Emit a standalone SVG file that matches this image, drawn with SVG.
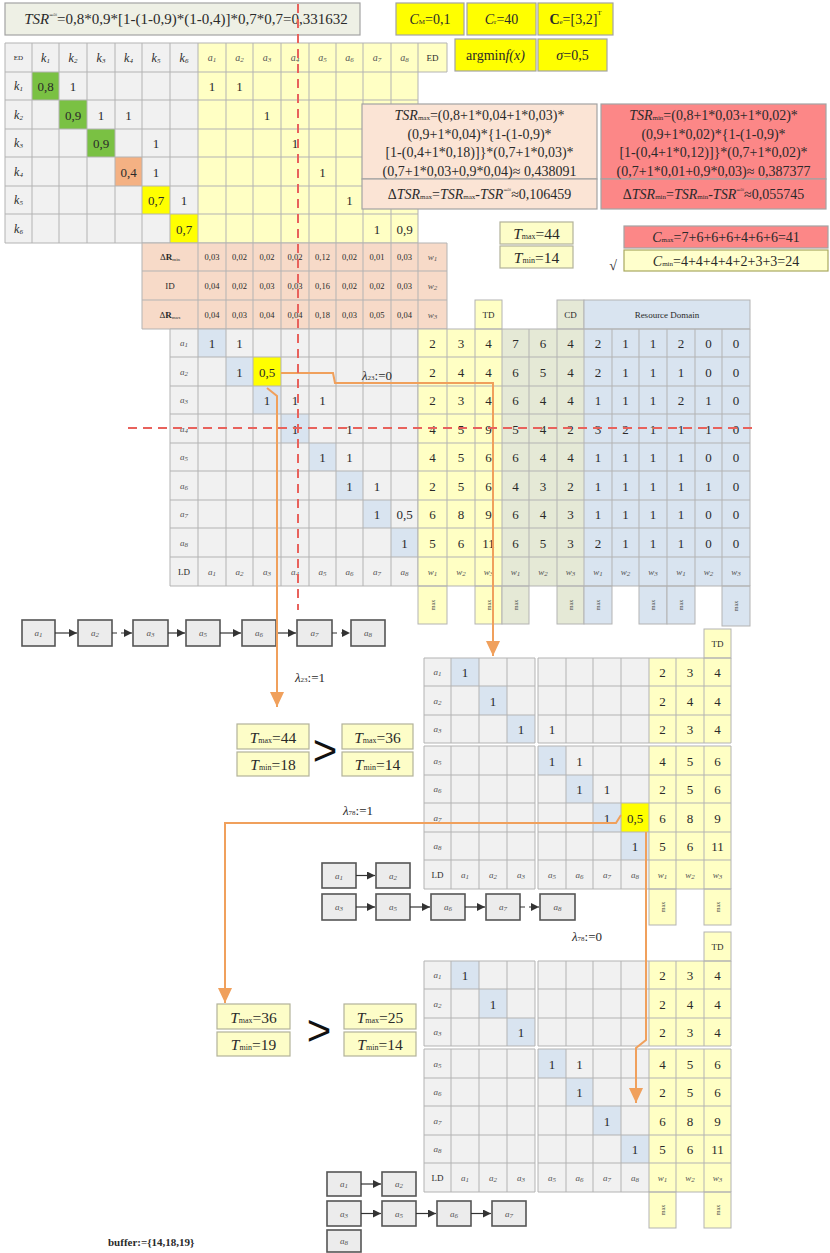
<svg xmlns="http://www.w3.org/2000/svg" width="830" height="1253" viewBox="0 0 830 1253">
<style>
text{font-family:"Liberation Serif","Times New Roman",serif;fill:#2a2a2a}
.t{font-size:13px;text-anchor:middle;dominant-baseline:central}
.s{font-size:8.5px}
.f{font-size:14px}
.tt{font-size:15.5px}
.i{font-style:italic}
.a{font-size:10px;font-style:italic;fill:#555}
.k{font-size:12px;font-style:italic}
.sb{font-size:7px}
.sb2{font-size:8px}
.sm{font-size:9px}
.grid{fill:none;stroke:#b3b3b3;stroke-width:1}
.gs{stroke:#b3b3b3;stroke-width:1}
.cg{fill:#f1f1f1}
.cy{fill:#ffffc4}
.cb{fill:#d9e4f0}
.cgg{fill:#e5e9d6}
.co{fill:#f7dac8}
.hy{fill:#ffff00}
.gn{fill:#7ac143}
.oc{fill:#f4b183}
.box{stroke:#a3a3a3;stroke-width:1.2}
.tb{fill:#fdfdc8;stroke:#b2b29a;stroke-width:1.2}
.ch rect{fill:#ececec;stroke:#555;stroke-width:1.6}
.or{fill:none;stroke:#f0a05c;stroke-width:2}
.dash{fill:none;stroke:#e8625c;stroke-width:2;stroke-dasharray:9 6}
.lk{stroke:#333;stroke-width:1.2;fill:none}
.dl{stroke-dasharray:5 4}
.rt{font-size:6px;text-anchor:middle;dominant-baseline:central;fill:#444}
</style>
<defs>
<marker id="oa" markerUnits="userSpaceOnUse" markerWidth="16" markerHeight="14" refX="15" refY="7" orient="auto"><path d="M0,0 L15,7 L0,14 z" fill="#f0a05c"/></marker>
<marker id="ba" markerUnits="userSpaceOnUse" markerWidth="8" markerHeight="8" refX="8" refY="4" orient="auto"><path d="M0,0 L8,4 L0,8 z" fill="#333"/></marker>
</defs>

<!-- TSR box -->
<g id="tsr-box">
<rect x="5" y="3" width="355" height="32" fill="#eef0e5" class="box"/>
<text class="t" x="186" y="19" style="font-size:15px"><tspan class="i">TSR</tspan><tspan class="sb" dy="-4">=≈</tspan><tspan dy="4">=0,8*0,9*[1-(1-0,9)*(1-0,4)]*0,7*0,7=0,331632</tspan></text>
</g>

<!-- parameter boxes -->
<g id="param-cm"><rect x="396" y="3" width="68" height="32" class="hy box"/><text class="t f" x="430" y="19"><tspan class="i">C</tspan><tspan class="sb" dy="3">M</tspan><tspan dy="-3">=0,1</tspan></text></g>
<g id="param-cr"><rect x="467" y="3" width="69" height="32" class="hy box"/><text class="t f" x="501.5" y="19"><tspan class="i">C</tspan><tspan class="sb" dy="3">r</tspan><tspan dy="-3">=40</tspan></text></g>
<g id="param-ce"><rect x="538" y="3" width="75" height="32" class="hy box"/><text class="t f" x="575.5" y="19"><tspan font-weight="bold">C</tspan><tspan class="sb" dy="3">e</tspan><tspan dy="-3">=[3,2]</tspan><tspan class="sb" dy="-6">T</tspan></text></g>
<g id="param-argmin"><rect x="455" y="39" width="81" height="32" class="hy box"/><text class="t f" x="495.5" y="55">argmin<tspan class="i">f(x)</tspan></text></g>
<g id="param-sigma"><rect x="538" y="39" width="69" height="32" class="hy box"/><text class="t f" x="572.5" y="55"><tspan class="i">σ</tspan>=0,5</text></g>

<!-- ED table -->
<g id="ed-table">
<rect x="5" y="43" width="193" height="200" class="cg"/>
<rect x="198" y="43" width="220" height="200" class="cy"/>
<rect x="418" y="43" width="29" height="29" class="cy"/>
<rect x="32" y="72" width="27" height="28" class="gn"/>
<rect x="59" y="100" width="28" height="29" class="gn"/>
<rect x="87" y="129" width="28" height="28" class="gn"/>
<rect x="115" y="157" width="27" height="29" class="oc"/>
<rect x="142" y="186" width="28" height="28" class="hy"/>
<rect x="170" y="214" width="28" height="29" class="hy"/>
<path class="grid" d="M5 43V243M32 43V243M59 43V243M87 43V243M115 43V243M142 43V243M170 43V243M198 43V243M226 43V243M253 43V243M281 43V243M309 43V243M336 43V243M363 43V243M391 43V243M418 43V243M447 43V72M5 43H447M5 72H447M5 100H418M5 129H418M5 157H418M5 186H418M5 214H418M5 243H418"/>
<text class="t" x="18.5" y="57.5" style="font-size:7px">ED</text>
<text class="t k" x="45.5" y="57.5">k<tspan class="sb" dy="3">1</tspan></text>
<text class="t k" x="73" y="57.5">k<tspan class="sb" dy="3">2</tspan></text>
<text class="t k" x="101" y="57.5">k<tspan class="sb" dy="3">3</tspan></text>
<text class="t k" x="128.5" y="57.5">k<tspan class="sb" dy="3">4</tspan></text>
<text class="t k" x="156" y="57.5">k<tspan class="sb" dy="3">5</tspan></text>
<text class="t k" x="184" y="57.5">k<tspan class="sb" dy="3">6</tspan></text>
<text class="t a" x="212" y="57.5">a<tspan class="sb" dy="2">1</tspan></text>
<text class="t a" x="239.5" y="57.5">a<tspan class="sb" dy="2">2</tspan></text>
<text class="t a" x="267" y="57.5">a<tspan class="sb" dy="2">3</tspan></text>
<text class="t a" x="295" y="57.5">a<tspan class="sb" dy="2">4</tspan></text>
<text class="t a" x="322.5" y="57.5">a<tspan class="sb" dy="2">5</tspan></text>
<text class="t a" x="349.5" y="57.5">a<tspan class="sb" dy="2">6</tspan></text>
<text class="t a" x="377" y="57.5">a<tspan class="sb" dy="2">7</tspan></text>
<text class="t a" x="404.5" y="57.5">a<tspan class="sb" dy="2">8</tspan></text>
<text class="t sm" x="432.5" y="57.5">ED</text>
<text class="t k" x="18.5" y="86">k<tspan class="sb" dy="3">1</tspan></text>
<text class="t k" x="18.5" y="114.5">k<tspan class="sb" dy="3">2</tspan></text>
<text class="t k" x="18.5" y="143">k<tspan class="sb" dy="3">3</tspan></text>
<text class="t k" x="18.5" y="171.5">k<tspan class="sb" dy="3">4</tspan></text>
<text class="t k" x="18.5" y="200">k<tspan class="sb" dy="3">5</tspan></text>
<text class="t k" x="18.5" y="228.5">k<tspan class="sb" dy="3">6</tspan></text>
<text class="t" y="86"><tspan x="45.5">0,8</tspan><tspan x="73">1</tspan><tspan x="212">1</tspan><tspan x="239.5">1</tspan></text>
<text class="t" y="114.5"><tspan x="73">0,9</tspan><tspan x="101">1</tspan><tspan x="128.5">1</tspan><tspan x="267">1</tspan></text>
<text class="t" y="143"><tspan x="101">0,9</tspan><tspan x="156">1</tspan><tspan x="295">1</tspan></text>
<text class="t" y="171.5"><tspan x="128.5">0,4</tspan><tspan x="156">1</tspan><tspan x="322.5">1</tspan></text>
<text class="t" y="200"><tspan x="156">0,7</tspan><tspan x="184">1</tspan><tspan x="349.5">1</tspan></text>
<text class="t" y="228.5"><tspan x="184">0,7</tspan><tspan x="377">1</tspan><tspan x="404.5">0,9</tspan></text>
</g>

<!-- TSR max / min boxes -->
<g id="tsr-max">
<rect x="362" y="104" width="235" height="75" fill="#fbe4d5" class="box"/>
<rect x="362" y="179" width="235" height="30" fill="#fbe4d5" class="box"/>
<text class="t f" x="479.5" y="115"><tspan class="i">TSR</tspan><tspan class="sb" dy="3">max</tspan><tspan dy="-3">=(0,8+1*0,04+1*0,03)*</tspan></text>
<text class="t f" x="479.5" y="134">(0,9+1*0,04)*{1-(1-0,9)*</text>
<text class="t f" x="479.5" y="152.5">[1-(0,4+1*0,18)]}*(0,7+1*0,03)*</text>
<text class="t f" x="479.5" y="171">(0,7+1*0,03+0,9*0,04)≈ 0,438091</text>
<text class="t f" x="479.5" y="194">Δ<tspan class="i">TSR</tspan><tspan class="sb" dy="3">max</tspan><tspan dy="-3">=</tspan><tspan class="i">TSR</tspan><tspan class="sb" dy="3">max</tspan><tspan dy="-3">-</tspan><tspan class="i">TSR</tspan><tspan class="sb" dy="-4">=≈</tspan><tspan dy="4">≈0,106459</tspan></text>
</g>
<g id="tsr-min">
<rect x="601" y="104" width="225" height="75" fill="#fc8787" class="box"/>
<rect x="601" y="179" width="225" height="30" fill="#fc8787" class="box"/>
<text class="t f" x="713.5" y="115"><tspan class="i">TSR</tspan><tspan class="sb" dy="3">min</tspan><tspan dy="-3">=(0,8+1*0,03+1*0,02)*</tspan></text>
<text class="t f" x="713.5" y="134">(0,9+1*0,02)*{1-(1-0,9)*</text>
<text class="t f" x="713.5" y="152.5">[1-(0,4+1*0,12)]}*(0,7+1*0,02)*</text>
<text class="t f" x="713.5" y="171">(0,7+1*0,01+0,9*0,03)≈ 0,387377</text>
<text class="t f" x="713.5" y="194">Δ<tspan class="i">TSR</tspan><tspan class="sb" dy="3">min</tspan><tspan dy="-3">=</tspan><tspan class="i">TSR</tspan><tspan class="sb" dy="3">min</tspan><tspan dy="-3">-</tspan><tspan class="i">TSR</tspan><tspan class="sb" dy="-4">=≈</tspan><tspan dy="4">≈0,055745</tspan></text>
</g>

<!-- T top -->
<g id="t-top">
<rect x="500" y="222" width="73" height="22" class="tb"/>
<rect x="500" y="246" width="73" height="22" class="tb"/>
<text class="t tt" x="536.5" y="233"><tspan class="i">T</tspan><tspan class="sb2" dy="3">max</tspan><tspan dy="-3">=44</tspan></text>
<text class="t tt" x="536.5" y="257"><tspan class="i">T</tspan><tspan class="sb2" dy="3">min</tspan><tspan dy="-3">=14</tspan></text>
</g>
<g id="cost">
<rect x="624" y="226" width="204" height="22" fill="#fc8787" class="box"/>
<rect x="624" y="250" width="204" height="21" fill="#ffffcc" stroke="#a8a860" stroke-width="1.2"/>
<text class="t f" x="726" y="237"><tspan class="i">C</tspan><tspan class="sb" dy="3">max</tspan><tspan dy="-3">=7+6+6+6+4+6+6=41</tspan></text>
<text class="t f" x="726" y="260.5"><tspan class="i">C</tspan><tspan class="sb" dy="3">min</tspan><tspan dy="-3">=4+4+4+4+2+3+3=24</tspan></text>
<text class="t f" x="613" y="265">√</text>
</g>

<!-- Delta R table -->
<g id="dr-table">
<rect x="142" y="243" width="305" height="86" class="co"/>
<path class="grid" d="M142 243V329M198 243V329M226 243V329M253 243V329M281 243V329M309 243V329M336 243V329M363 243V329M391 243V329M418 243V329M447 243V329M142 243H447M142 271H447M142 300H447M142 329H447"/>
<text class="t sm" x="170" y="257">Δ<tspan font-weight="bold">R</tspan><tspan class="sb" dy="2" style="font-size:5px">min</tspan></text>
<text class="t sm" x="170" y="285.5">ID</text>
<text class="t sm" x="170" y="314.5">Δ<tspan font-weight="bold">R</tspan><tspan class="sb" dy="2" style="font-size:5px">max</tspan></text>
<text class="t s" y="257"><tspan x="212">0,03</tspan><tspan x="239.5">0,02</tspan><tspan x="267">0,02</tspan><tspan x="295">0,02</tspan><tspan x="322.5">0,12</tspan><tspan x="349.5">0,02</tspan><tspan x="377">0,01</tspan><tspan x="404.5">0,03</tspan></text>
<text class="t s" y="285.5"><tspan x="212">0,04</tspan><tspan x="239.5">0,02</tspan><tspan x="267">0,03</tspan><tspan x="295">0,03</tspan><tspan x="322.5">0,16</tspan><tspan x="349.5">0,02</tspan><tspan x="377">0,02</tspan><tspan x="404.5">0,03</tspan></text>
<text class="t s" y="314.5"><tspan x="212">0,04</tspan><tspan x="239.5">0,03</tspan><tspan x="267">0,04</tspan><tspan x="295">0,04</tspan><tspan x="322.5">0,18</tspan><tspan x="349.5">0,03</tspan><tspan x="377">0,05</tspan><tspan x="404.5">0,04</tspan></text>
<text class="t a" x="432.5" y="257" style="font-size:9px">w<tspan class="sb" dy="2">1</tspan></text>
<text class="t a" x="432.5" y="285.5" style="font-size:9px">w<tspan class="sb" dy="2">2</tspan></text>
<text class="t a" x="432.5" y="314.5" style="font-size:9px">w<tspan class="sb" dy="2">3</tspan></text>
</g>

<!-- main DSM -->
<g id="dsm-main">
<rect x="170" y="329" width="248" height="257" class="cg"/>
<rect x="198" y="329" width="28" height="28" class="cb"/>
<rect x="226" y="357" width="27" height="29" class="cb"/>
<rect x="253" y="386" width="28" height="28" class="cb"/>
<rect x="281" y="414" width="28" height="29" class="cb"/>
<rect x="309" y="443" width="27" height="28" class="cb"/>
<rect x="336" y="471" width="27" height="29" class="cb"/>
<rect x="363" y="500" width="28" height="28" class="cb"/>
<rect x="391" y="528" width="27" height="29" class="cb"/>
<rect x="253" y="357" width="28" height="29" class="hy"/>
<path class="grid" d="M170 329V586M198 329V586M226 329V586M253 329V586M281 329V586M309 329V586M336 329V586M363 329V586M391 329V586M418 329V586M170 329H418M170 357H418M170 386H418M170 414H418M170 443H418M170 471H418M170 500H418M170 528H418M170 557H418M170 586H418"/>
<text class="t a" x="184" y="343" style="font-size:9px">a<tspan class="sb" dy="2">1</tspan></text>
<text class="t a" x="184" y="371.5" style="font-size:9px">a<tspan class="sb" dy="2">2</tspan></text>
<text class="t a" x="184" y="400" style="font-size:9px">a<tspan class="sb" dy="2">3</tspan></text>
<text class="t a" x="184" y="428.5" style="font-size:9px">a<tspan class="sb" dy="2">4</tspan></text>
<text class="t a" x="184" y="457" style="font-size:9px">a<tspan class="sb" dy="2">5</tspan></text>
<text class="t a" x="184" y="485.5" style="font-size:9px">a<tspan class="sb" dy="2">6</tspan></text>
<text class="t a" x="184" y="514" style="font-size:9px">a<tspan class="sb" dy="2">7</tspan></text>
<text class="t a" x="184" y="542.5" style="font-size:9px">a<tspan class="sb" dy="2">8</tspan></text>
<text class="t sm" x="184" y="571.5">LD</text>
<text class="t a" x="212" y="571.5" style="font-size:9px">a<tspan class="sb" dy="2">1</tspan></text>
<text class="t a" x="239.5" y="571.5" style="font-size:9px">a<tspan class="sb" dy="2">2</tspan></text>
<text class="t a" x="267" y="571.5" style="font-size:9px">a<tspan class="sb" dy="2">3</tspan></text>
<text class="t a" x="295" y="571.5" style="font-size:9px">a<tspan class="sb" dy="2">4</tspan></text>
<text class="t a" x="322.5" y="571.5" style="font-size:9px">a<tspan class="sb" dy="2">5</tspan></text>
<text class="t a" x="349.5" y="571.5" style="font-size:9px">a<tspan class="sb" dy="2">6</tspan></text>
<text class="t a" x="377" y="571.5" style="font-size:9px">a<tspan class="sb" dy="2">7</tspan></text>
<text class="t a" x="404.5" y="571.5" style="font-size:9px">a<tspan class="sb" dy="2">8</tspan></text>
<text class="t" y="343"><tspan x="212">1</tspan><tspan x="239.5">1</tspan></text>
<text class="t" y="371.5"><tspan x="239.5">1</tspan><tspan x="267">0,5</tspan></text>
<text class="t" y="400"><tspan x="267">1</tspan><tspan x="295">1</tspan><tspan x="322.5">1</tspan></text>
<text class="t" y="428.5"><tspan x="295">1</tspan><tspan x="349.5">1</tspan></text>
<text class="t" y="457"><tspan x="322.5">1</tspan><tspan x="349.5">1</tspan></text>
<text class="t" y="485.5"><tspan x="349.5">1</tspan><tspan x="377">1</tspan></text>
<text class="t" y="514"><tspan x="377">1</tspan><tspan x="404.5">0,5</tspan></text>
<text class="t" y="542.5"><tspan x="404.5">1</tspan></text>
</g>

<!-- domains block -->
<g id="domains">
<rect x="418" y="329" width="84" height="257" class="cy"/>
<rect x="475" y="300" width="27" height="29" class="cy gs"/>
<rect x="418" y="586" width="29" height="38" class="cy gs"/>
<rect x="475" y="586" width="27" height="38" class="cy gs"/>
<rect x="502" y="329" width="82" height="257" class="cgg"/>
<rect x="557" y="300" width="27" height="29" class="cgg gs"/>
<rect x="502" y="586" width="27" height="38" class="cgg gs"/>
<rect x="557" y="586" width="27" height="38" class="cgg gs"/>
<rect x="584" y="329" width="166" height="257" class="cb"/>
<rect x="584" y="300" width="166" height="29" class="cb gs"/>
<rect x="584" y="586" width="28" height="38" class="cb gs"/>
<rect x="639" y="586" width="28" height="38" class="cb gs"/>
<rect x="667" y="586" width="28" height="38" class="cb gs"/>
<rect x="722" y="586" width="28" height="40" class="cb gs"/>
<path class="grid" d="M418 329V586M447 329V586M475 329V586M502 329V586M529 329V586M557 329V586M584 329V586M612 329V586M639 329V586M667 329V586M695 329V586M722 329V586M750 329V586M418 329H750M418 357H750M418 386H750M418 414H750M418 443H750M418 471H750M418 500H750M418 528H750M418 557H750M418 586H750"/>
<text class="t sm" x="488.5" y="314.5">TD</text>
<text class="t sm" x="570.5" y="314.5">CD</text>
<text class="t sm" x="667" y="314.5">Resource Domain</text>
<text class="t" y="343"><tspan x="432.5">2</tspan><tspan x="461">3</tspan><tspan x="488.5">4</tspan><tspan x="515.5">7</tspan><tspan x="543">6</tspan><tspan x="570.5">4</tspan><tspan x="598">2</tspan><tspan x="625.5">1</tspan><tspan x="653">1</tspan><tspan x="681">2</tspan><tspan x="708.5">0</tspan><tspan x="736">0</tspan></text>
<text class="t" y="371.5"><tspan x="432.5">2</tspan><tspan x="461">4</tspan><tspan x="488.5">4</tspan><tspan x="515.5">6</tspan><tspan x="543">5</tspan><tspan x="570.5">4</tspan><tspan x="598">2</tspan><tspan x="625.5">1</tspan><tspan x="653">1</tspan><tspan x="681">1</tspan><tspan x="708.5">0</tspan><tspan x="736">0</tspan></text>
<text class="t" y="400"><tspan x="432.5">2</tspan><tspan x="461">3</tspan><tspan x="488.5">4</tspan><tspan x="515.5">6</tspan><tspan x="543">4</tspan><tspan x="570.5">4</tspan><tspan x="598">1</tspan><tspan x="625.5">1</tspan><tspan x="653">1</tspan><tspan x="681">2</tspan><tspan x="708.5">1</tspan><tspan x="736">0</tspan></text>
<text class="t" y="428.5"><tspan x="432.5">4</tspan><tspan x="461">5</tspan><tspan x="488.5">9</tspan><tspan x="515.5">5</tspan><tspan x="543">4</tspan><tspan x="570.5">2</tspan><tspan x="598">3</tspan><tspan x="625.5">2</tspan><tspan x="653">1</tspan><tspan x="681">1</tspan><tspan x="708.5">1</tspan><tspan x="736">0</tspan></text>
<text class="t" y="457"><tspan x="432.5">4</tspan><tspan x="461">5</tspan><tspan x="488.5">6</tspan><tspan x="515.5">6</tspan><tspan x="543">4</tspan><tspan x="570.5">4</tspan><tspan x="598">1</tspan><tspan x="625.5">1</tspan><tspan x="653">1</tspan><tspan x="681">1</tspan><tspan x="708.5">0</tspan><tspan x="736">0</tspan></text>
<text class="t" y="485.5"><tspan x="432.5">2</tspan><tspan x="461">5</tspan><tspan x="488.5">6</tspan><tspan x="515.5">4</tspan><tspan x="543">3</tspan><tspan x="570.5">2</tspan><tspan x="598">1</tspan><tspan x="625.5">1</tspan><tspan x="653">1</tspan><tspan x="681">1</tspan><tspan x="708.5">1</tspan><tspan x="736">0</tspan></text>
<text class="t" y="514"><tspan x="432.5">6</tspan><tspan x="461">8</tspan><tspan x="488.5">9</tspan><tspan x="515.5">6</tspan><tspan x="543">4</tspan><tspan x="570.5">3</tspan><tspan x="598">1</tspan><tspan x="625.5">1</tspan><tspan x="653">1</tspan><tspan x="681">1</tspan><tspan x="708.5">0</tspan><tspan x="736">0</tspan></text>
<text class="t" y="542.5"><tspan x="432.5">5</tspan><tspan x="461">6</tspan><tspan x="488.5">11</tspan><tspan x="515.5">6</tspan><tspan x="543">5</tspan><tspan x="570.5">3</tspan><tspan x="598">2</tspan><tspan x="625.5">1</tspan><tspan x="653">1</tspan><tspan x="681">1</tspan><tspan x="708.5">0</tspan><tspan x="736">0</tspan></text>
<text class="t a" x="432.5" y="571.5" style="font-size:9px">w<tspan class="sb" dy="2">1</tspan></text>
<text class="t a" x="461" y="571.5" style="font-size:9px">w<tspan class="sb" dy="2">2</tspan></text>
<text class="t a" x="488.5" y="571.5" style="font-size:9px">w<tspan class="sb" dy="2">3</tspan></text>
<text class="t a" x="515.5" y="571.5" style="font-size:9px">w<tspan class="sb" dy="2">1</tspan></text>
<text class="t a" x="543" y="571.5" style="font-size:9px">w<tspan class="sb" dy="2">2</tspan></text>
<text class="t a" x="570.5" y="571.5" style="font-size:9px">w<tspan class="sb" dy="2">3</tspan></text>
<text class="t a" x="598" y="571.5" style="font-size:9px">w<tspan class="sb" dy="2">1</tspan></text>
<text class="t a" x="625.5" y="571.5" style="font-size:9px">w<tspan class="sb" dy="2">2</tspan></text>
<text class="t a" x="653" y="571.5" style="font-size:9px">w<tspan class="sb" dy="2">3</tspan></text>
<text class="t a" x="681" y="571.5" style="font-size:9px">w<tspan class="sb" dy="2">1</tspan></text>
<text class="t a" x="708.5" y="571.5" style="font-size:9px">w<tspan class="sb" dy="2">2</tspan></text>
<text class="t a" x="736" y="571.5" style="font-size:9px">w<tspan class="sb" dy="2">3</tspan></text>
<text class="rt" transform="translate(432.5,605) rotate(-90)">max</text>
<text class="rt" transform="translate(488.5,605) rotate(-90)">max</text>
<text class="rt" transform="translate(515.5,605) rotate(-90)">max</text>
<text class="rt" transform="translate(570.5,605) rotate(-90)">max</text>
<text class="rt" transform="translate(598,605) rotate(-90)">max</text>
<text class="rt" transform="translate(653,605) rotate(-90)">max</text>
<text class="rt" transform="translate(681,605) rotate(-90)">max</text>
<text class="rt" transform="translate(736,606) rotate(-90)">max</text>
</g>

<!-- chain 1 -->
<g id="chain-1" class="ch">
<rect x="22" y="620" width="33" height="26"/><rect x="78" y="620" width="34" height="26"/><rect x="133" y="620" width="35" height="26"/><rect x="186" y="620" width="34" height="26"/><rect x="242" y="620" width="34" height="26"/><rect x="297" y="620" width="35" height="26"/><rect x="351" y="620" width="34" height="26"/>
<path class="lk" d="M55 633H77" marker-end="url(#ba)"/>
<path class="lk dl" d="M112 633H132" marker-end="url(#ba)"/>
<path class="lk" d="M168 633H185" marker-end="url(#ba)"/>
<path class="lk" d="M220 633H241" marker-end="url(#ba)"/>
<path class="lk" d="M276 633H296" marker-end="url(#ba)"/>
<path class="lk dl" d="M332 633H350" marker-end="url(#ba)"/>
<text class="t a" x="38.5" y="633" style="font-size:9px">a<tspan class="sb" dy="2">1</tspan></text>
<text class="t a" x="95" y="633" style="font-size:9px">a<tspan class="sb" dy="2">2</tspan></text>
<text class="t a" x="150.5" y="633" style="font-size:9px">a<tspan class="sb" dy="2">3</tspan></text>
<text class="t a" x="203" y="633" style="font-size:9px">a<tspan class="sb" dy="2">5</tspan></text>
<text class="t a" x="259" y="633" style="font-size:9px">a<tspan class="sb" dy="2">6</tspan></text>
<text class="t a" x="314.5" y="633" style="font-size:9px">a<tspan class="sb" dy="2">7</tspan></text>
<text class="t a" x="368" y="633" style="font-size:9px">a<tspan class="sb" dy="2">8</tspan></text>
</g>

<!-- T comparisons -->
<g id="t-compare-1">
<rect x="237" y="724" width="72" height="25" class="tb"/><rect x="237" y="752" width="72" height="24" class="tb"/>
<rect x="342" y="724" width="71" height="25" class="tb"/><rect x="342" y="752" width="71" height="24" class="tb"/>
<text class="t tt" x="273" y="736.5"><tspan class="i">T</tspan><tspan class="sb2" dy="3">max</tspan><tspan dy="-3">=44</tspan></text>
<text class="t tt" x="273" y="764"><tspan class="i">T</tspan><tspan class="sb2" dy="3">min</tspan><tspan dy="-3">=18</tspan></text>
<text class="t tt" x="377.5" y="736.5"><tspan class="i">T</tspan><tspan class="sb2" dy="3">max</tspan><tspan dy="-3">=36</tspan></text>
<text class="t tt" x="377.5" y="764"><tspan class="i">T</tspan><tspan class="sb2" dy="3">min</tspan><tspan dy="-3">=14</tspan></text>
<text x="325" y="750" text-anchor="middle" dominant-baseline="central" style="font-family:'Liberation Sans',sans-serif;font-size:42px;fill:#111">&gt;</text>
</g>
<g id="t-compare-2">
<rect x="217" y="1004" width="73" height="25" class="tb"/><rect x="217" y="1032" width="73" height="24" class="tb"/>
<rect x="344" y="1004" width="72" height="25" class="tb"/><rect x="344" y="1032" width="72" height="24" class="tb"/>
<text class="t tt" x="253.5" y="1016.5"><tspan class="i">T</tspan><tspan class="sb2" dy="3">max</tspan><tspan dy="-3">=36</tspan></text>
<text class="t tt" x="253.5" y="1044"><tspan class="i">T</tspan><tspan class="sb2" dy="3">min</tspan><tspan dy="-3">=19</tspan></text>
<text class="t tt" x="380" y="1016.5"><tspan class="i">T</tspan><tspan class="sb2" dy="3">max</tspan><tspan dy="-3">=25</tspan></text>
<text class="t tt" x="380" y="1044"><tspan class="i">T</tspan><tspan class="sb2" dy="3">min</tspan><tspan dy="-3">=14</tspan></text>
<text x="319" y="1030" text-anchor="middle" dominant-baseline="central" style="font-family:'Liberation Sans',sans-serif;font-size:42px;fill:#111">&gt;</text>
</g>

<!-- DSM 2 -->
<g id="dsm-2">
<rect x="424" y="658" width="111" height="85" class="cg"/><rect x="538" y="658" width="111" height="85" class="cg"/>
<rect x="424" y="746" width="111" height="143" class="cg"/><rect x="538" y="746" width="111" height="143" class="cg"/>
<rect x="649" y="658" width="82" height="85" class="cy"/><rect x="649" y="746" width="82" height="143" class="cy"/>
<rect x="704" y="629" width="27" height="29" class="cy gs"/>
<rect x="649" y="889" width="27" height="36" class="cy gs"/><rect x="704" y="889" width="27" height="36" class="cy gs"/>
<rect x="451" y="658" width="28" height="28" class="cb"/><rect x="479" y="686" width="28" height="29" class="cb"/><rect x="507" y="715" width="28" height="28" class="cb"/>
<rect x="538" y="746" width="28" height="29" class="cb"/><rect x="566" y="775" width="27" height="28" class="cb"/><rect x="593" y="803" width="28" height="29" class="cb"/><rect x="621" y="832" width="28" height="28" class="cb"/>
<rect x="621" y="803" width="28" height="29" class="hy"/>
<path class="grid" d="M424 658V743M451 658V743M479 658V743M507 658V743M535 658V743M538 658V743M566 658V743M593 658V743M621 658V743M649 658V743M676 658V743M704 658V743M731 658V743M424 746V889M451 746V889M479 746V889M507 746V889M535 746V889M538 746V889M566 746V889M593 746V889M621 746V889M649 746V889M676 746V889M704 746V889M731 746V889M424 658H535M538 658H731M424 686H535M538 686H731M424 715H535M538 715H731M424 743H535M538 743H731M424 746H535M538 746H731M424 775H535M538 775H731M424 803H535M538 803H731M424 832H535M538 832H731M424 860H535M538 860H731M424 889H535M538 889H731"/>
<text class="t sm" x="717.5" y="643.5">TD</text>
<text class="t a" x="437.5" y="672" style="font-size:9px">a<tspan class="sb" dy="2">1</tspan></text>
<text class="t a" x="437.5" y="700.5" style="font-size:9px">a<tspan class="sb" dy="2">2</tspan></text>
<text class="t a" x="437.5" y="729" style="font-size:9px">a<tspan class="sb" dy="2">3</tspan></text>
<text class="t a" x="437.5" y="760.5" style="font-size:9px">a<tspan class="sb" dy="2">5</tspan></text>
<text class="t a" x="437.5" y="789" style="font-size:9px">a<tspan class="sb" dy="2">6</tspan></text>
<text class="t a" x="437.5" y="817.5" style="font-size:9px">a<tspan class="sb" dy="2">7</tspan></text>
<text class="t a" x="437.5" y="846" style="font-size:9px">a<tspan class="sb" dy="2">8</tspan></text>
<text class="t sm" x="437.5" y="874.5">LD</text>
<text class="t a" x="465" y="874.5" style="font-size:9px">a<tspan class="sb" dy="2">1</tspan></text>
<text class="t a" x="493" y="874.5" style="font-size:9px">a<tspan class="sb" dy="2">2</tspan></text>
<text class="t a" x="521" y="874.5" style="font-size:9px">a<tspan class="sb" dy="2">3</tspan></text>
<text class="t a" x="552" y="874.5" style="font-size:9px">a<tspan class="sb" dy="2">5</tspan></text>
<text class="t a" x="579.5" y="874.5" style="font-size:9px">a<tspan class="sb" dy="2">6</tspan></text>
<text class="t a" x="607" y="874.5" style="font-size:9px">a<tspan class="sb" dy="2">7</tspan></text>
<text class="t a" x="635" y="874.5" style="font-size:9px">a<tspan class="sb" dy="2">8</tspan></text>
<text class="t a" x="662.5" y="874.5" style="font-size:9px">w<tspan class="sb" dy="2">1</tspan></text>
<text class="t a" x="690" y="874.5" style="font-size:9px">w<tspan class="sb" dy="2">2</tspan></text>
<text class="t a" x="717.5" y="874.5" style="font-size:9px">w<tspan class="sb" dy="2">3</tspan></text>
<text class="t" y="672"><tspan x="465">1</tspan><tspan x="662.5">2</tspan><tspan x="690">3</tspan><tspan x="717.5">4</tspan></text>
<text class="t" y="700.5"><tspan x="493">1</tspan><tspan x="662.5">2</tspan><tspan x="690">4</tspan><tspan x="717.5">4</tspan></text>
<text class="t" y="729"><tspan x="521">1</tspan><tspan x="552">1</tspan><tspan x="662.5">2</tspan><tspan x="690">3</tspan><tspan x="717.5">4</tspan></text>
<text class="t" y="760.5"><tspan x="552">1</tspan><tspan x="579.5">1</tspan><tspan x="662.5">4</tspan><tspan x="690">5</tspan><tspan x="717.5">6</tspan></text>
<text class="t" y="789"><tspan x="579.5">1</tspan><tspan x="607">1</tspan><tspan x="662.5">2</tspan><tspan x="690">5</tspan><tspan x="717.5">6</tspan></text>
<text class="t" y="817.5"><tspan x="607">1</tspan><tspan x="635">0,5</tspan><tspan x="662.5">6</tspan><tspan x="690">8</tspan><tspan x="717.5">9</tspan></text>
<text class="t" y="846"><tspan x="635">1</tspan><tspan x="662.5">5</tspan><tspan x="690">6</tspan><tspan x="717.5">11</tspan></text>
<text class="rt" transform="translate(662.5,907) rotate(-90)">max</text>
<text class="rt" transform="translate(717.5,907) rotate(-90)">max</text>
</g>

<!-- DSM 3 -->
<g id="dsm-3" transform="translate(0,303)">
<rect x="424" y="658" width="111" height="85" class="cg"/><rect x="538" y="658" width="111" height="85" class="cg"/>
<rect x="424" y="746" width="111" height="143" class="cg"/><rect x="538" y="746" width="111" height="143" class="cg"/>
<rect x="649" y="658" width="82" height="85" class="cy"/><rect x="649" y="746" width="82" height="143" class="cy"/>
<rect x="704" y="629" width="27" height="29" class="cy gs"/>
<rect x="649" y="889" width="27" height="36" class="cy gs"/><rect x="704" y="889" width="27" height="36" class="cy gs"/>
<rect x="451" y="658" width="28" height="28" class="cb"/><rect x="479" y="686" width="28" height="29" class="cb"/><rect x="507" y="715" width="28" height="28" class="cb"/>
<rect x="538" y="746" width="28" height="29" class="cb"/><rect x="566" y="775" width="27" height="28" class="cb"/><rect x="593" y="803" width="28" height="29" class="cb"/><rect x="621" y="832" width="28" height="28" class="cb"/>
<path class="grid" d="M424 658V743M451 658V743M479 658V743M507 658V743M535 658V743M538 658V743M566 658V743M593 658V743M621 658V743M649 658V743M676 658V743M704 658V743M731 658V743M424 746V889M451 746V889M479 746V889M507 746V889M535 746V889M538 746V889M566 746V889M593 746V889M621 746V889M649 746V889M676 746V889M704 746V889M731 746V889M424 658H535M538 658H731M424 686H535M538 686H731M424 715H535M538 715H731M424 743H535M538 743H731M424 746H535M538 746H731M424 775H535M538 775H731M424 803H535M538 803H731M424 832H535M538 832H731M424 860H535M538 860H731M424 889H535M538 889H731"/>
<text class="t sm" x="717.5" y="643.5">TD</text>
<text class="t a" x="437.5" y="672" style="font-size:9px">a<tspan class="sb" dy="2">1</tspan></text>
<text class="t a" x="437.5" y="700.5" style="font-size:9px">a<tspan class="sb" dy="2">2</tspan></text>
<text class="t a" x="437.5" y="729" style="font-size:9px">a<tspan class="sb" dy="2">3</tspan></text>
<text class="t a" x="437.5" y="760.5" style="font-size:9px">a<tspan class="sb" dy="2">5</tspan></text>
<text class="t a" x="437.5" y="789" style="font-size:9px">a<tspan class="sb" dy="2">6</tspan></text>
<text class="t a" x="437.5" y="817.5" style="font-size:9px">a<tspan class="sb" dy="2">7</tspan></text>
<text class="t a" x="437.5" y="846" style="font-size:9px">a<tspan class="sb" dy="2">8</tspan></text>
<text class="t sm" x="437.5" y="874.5">LD</text>
<text class="t a" x="465" y="874.5" style="font-size:9px">a<tspan class="sb" dy="2">1</tspan></text>
<text class="t a" x="493" y="874.5" style="font-size:9px">a<tspan class="sb" dy="2">2</tspan></text>
<text class="t a" x="521" y="874.5" style="font-size:9px">a<tspan class="sb" dy="2">3</tspan></text>
<text class="t a" x="552" y="874.5" style="font-size:9px">a<tspan class="sb" dy="2">5</tspan></text>
<text class="t a" x="579.5" y="874.5" style="font-size:9px">a<tspan class="sb" dy="2">6</tspan></text>
<text class="t a" x="607" y="874.5" style="font-size:9px">a<tspan class="sb" dy="2">7</tspan></text>
<text class="t a" x="635" y="874.5" style="font-size:9px">a<tspan class="sb" dy="2">8</tspan></text>
<text class="t a" x="662.5" y="874.5" style="font-size:9px">w<tspan class="sb" dy="2">1</tspan></text>
<text class="t a" x="690" y="874.5" style="font-size:9px">w<tspan class="sb" dy="2">2</tspan></text>
<text class="t a" x="717.5" y="874.5" style="font-size:9px">w<tspan class="sb" dy="2">3</tspan></text>
<text class="t" y="672"><tspan x="465">1</tspan><tspan x="662.5">2</tspan><tspan x="690">3</tspan><tspan x="717.5">4</tspan></text>
<text class="t" y="700.5"><tspan x="493">1</tspan><tspan x="662.5">2</tspan><tspan x="690">4</tspan><tspan x="717.5">4</tspan></text>
<text class="t" y="729"><tspan x="521">1</tspan><tspan x="662.5">2</tspan><tspan x="690">3</tspan><tspan x="717.5">4</tspan></text>
<text class="t" y="760.5"><tspan x="552">1</tspan><tspan x="579.5">1</tspan><tspan x="662.5">4</tspan><tspan x="690">5</tspan><tspan x="717.5">6</tspan></text>
<text class="t" y="789"><tspan x="579.5">1</tspan><tspan x="662.5">2</tspan><tspan x="690">5</tspan><tspan x="717.5">6</tspan></text>
<text class="t" y="817.5"><tspan x="607">1</tspan><tspan x="662.5">6</tspan><tspan x="690">8</tspan><tspan x="717.5">9</tspan></text>
<text class="t" y="846"><tspan x="635">1</tspan><tspan x="662.5">5</tspan><tspan x="690">6</tspan><tspan x="717.5">11</tspan></text>
<text class="rt" transform="translate(662.5,907) rotate(-90)">max</text>
<text class="rt" transform="translate(717.5,907) rotate(-90)">max</text>
</g>

<!-- chain 2 -->
<g id="chain-2" class="ch">
<rect x="322" y="863" width="34" height="25"/><rect x="376" y="863" width="34" height="25"/>
<rect x="322" y="894" width="34" height="26"/><rect x="376" y="894" width="34" height="26"/><rect x="431" y="894" width="34" height="26"/><rect x="486" y="894" width="34" height="26"/><rect x="540" y="894" width="35" height="26"/>
<path class="lk" d="M356 875.5H375" marker-end="url(#ba)"/>
<path class="lk" d="M356 907H375" marker-end="url(#ba)"/>
<path class="lk" d="M410 907H430" marker-end="url(#ba)"/>
<path class="lk" d="M465 907H485" marker-end="url(#ba)"/>
<path class="lk dl" d="M520 907H539" marker-end="url(#ba)"/>
<text class="t a" x="339" y="875.5" style="font-size:9px">a<tspan class="sb" dy="2">1</tspan></text>
<text class="t a" x="393" y="875.5" style="font-size:9px">a<tspan class="sb" dy="2">2</tspan></text>
<text class="t a" x="339" y="907" style="font-size:9px">a<tspan class="sb" dy="2">3</tspan></text>
<text class="t a" x="393" y="907" style="font-size:9px">a<tspan class="sb" dy="2">5</tspan></text>
<text class="t a" x="448" y="907" style="font-size:9px">a<tspan class="sb" dy="2">6</tspan></text>
<text class="t a" x="503" y="907" style="font-size:9px">a<tspan class="sb" dy="2">7</tspan></text>
<text class="t a" x="557.5" y="907" style="font-size:9px">a<tspan class="sb" dy="2">8</tspan></text>
</g>

<!-- chain 3 -->
<g id="chain-3" class="ch">
<rect x="327" y="1172" width="34" height="24"/><rect x="382" y="1172" width="34" height="24"/>
<rect x="327" y="1201" width="34" height="25"/><rect x="382" y="1201" width="34" height="25"/><rect x="437" y="1201" width="34" height="25"/><rect x="492" y="1201" width="34" height="25"/>
<rect x="327" y="1230" width="34" height="22"/>
<path class="lk" d="M361 1184H381" marker-end="url(#ba)"/>
<path class="lk" d="M361 1213.5H381" marker-end="url(#ba)"/>
<path class="lk" d="M416 1213.5H436" marker-end="url(#ba)"/>
<path class="lk" d="M471 1213.5H491" marker-end="url(#ba)"/>
<text class="t a" x="344" y="1184" style="font-size:9px">a<tspan class="sb" dy="2">1</tspan></text>
<text class="t a" x="399" y="1184" style="font-size:9px">a<tspan class="sb" dy="2">2</tspan></text>
<text class="t a" x="344" y="1213.5" style="font-size:9px">a<tspan class="sb" dy="2">3</tspan></text>
<text class="t a" x="399" y="1213.5" style="font-size:9px">a<tspan class="sb" dy="2">5</tspan></text>
<text class="t a" x="454" y="1213.5" style="font-size:9px">a<tspan class="sb" dy="2">6</tspan></text>
<text class="t a" x="509" y="1213.5" style="font-size:9px">a<tspan class="sb" dy="2">7</tspan></text>
<text class="t a" x="344" y="1241" style="font-size:9px">a<tspan class="sb" dy="2">8</tspan></text>
</g>

<g id="buffer"><text x="108" y="1246" style="font-size:11px;font-weight:bold">buffer:={14,18,19}</text></g>

<!-- connectors -->
<g id="connectors">
<path class="or" d="M281 373H333L335 383H493V656" marker-end="url(#oa)"/>
<path class="or" d="M267 388L277 396V707" marker-end="url(#oa)"/>
<path class="or" d="M621 815L616 823H225V1003" marker-end="url(#oa)"/>
<path class="or" d="M646 832V1040L636 1048V1103" marker-end="url(#oa)"/>
<text class="t" x="377" y="375" fill="#555"><tspan class="i">λ</tspan><tspan class="sb" dy="3">23</tspan><tspan dy="-3">:=0</tspan></text>
<text class="t" x="310" y="677" fill="#555"><tspan class="i">λ</tspan><tspan class="sb" dy="3">23</tspan><tspan dy="-3">:=1</tspan></text>
<text class="t" x="358" y="810" fill="#555"><tspan class="i">λ</tspan><tspan class="sb" dy="3">78</tspan><tspan dy="-3">:=1</tspan></text>
<text class="t" x="587" y="936" fill="#555"><tspan class="i">λ</tspan><tspan class="sb" dy="3">78</tspan><tspan dy="-3">:=0</tspan></text>
</g>

<!-- red dashed cut lines -->
<g id="cut-lines">
<path class="dash" d="M298 4V610"/>
<path class="dash" d="M128 428H756"/>
</g>
</svg>
